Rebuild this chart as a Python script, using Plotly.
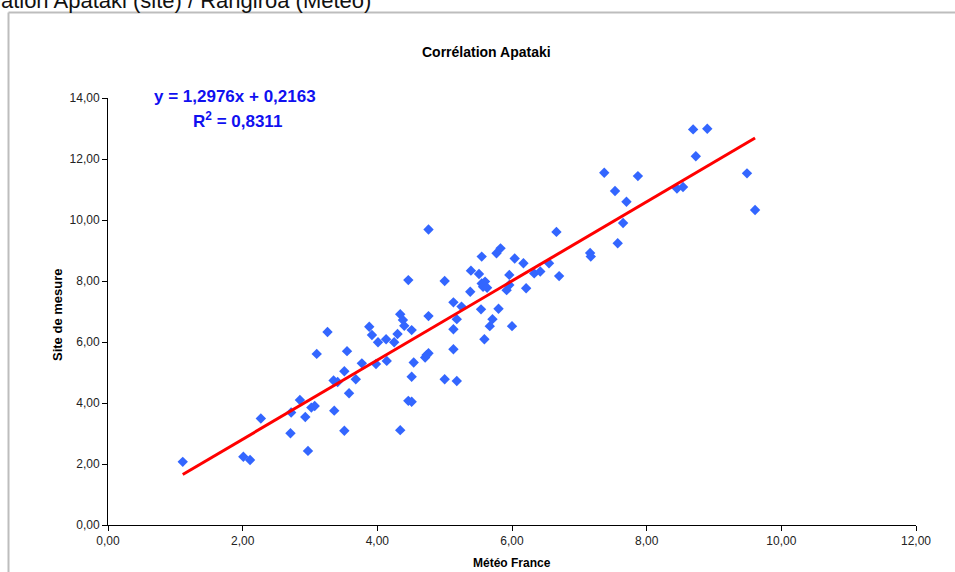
import plotly.graph_objects as go

# Data
meteo_france = [1.11, 2.01, 2.11, 2.27, 2.71, 2.72, 2.85, 2.93, 2.97, 3.02,
                3.07, 3.10, 3.26, 3.35, 3.41, 3.36, 3.51, 3.51, 3.55, 3.58,
                3.68, 3.77, 3.88, 3.92, 3.98, 4.01, 4.13, 4.14, 4.25, 4.30,
                4.34, 4.38, 4.40, 4.34, 4.46, 4.51, 4.46, 4.51, 4.51, 4.54,
                4.71, 4.73, 4.76, 4.76, 4.76, 5.00, 5.00, 5.13, 5.13, 5.13,
                5.18, 5.18, 5.25, 5.38, 5.39, 5.51, 5.54, 5.55, 5.55, 5.57,
                5.60, 5.63, 5.59, 5.67, 5.71, 5.77, 5.80, 5.83, 5.92, 5.96,
                5.96, 6.00, 6.04, 6.17, 6.21, 6.33, 6.42, 6.55, 6.66, 6.70,
                7.16, 7.17, 7.37, 7.53, 7.57, 7.65, 7.70, 7.87, 8.45, 8.54,
                8.69, 8.73, 8.90, 9.49, 9.61]
site_mesure = [2.07, 2.24, 2.13, 3.49, 3.01, 3.69, 4.10, 3.54, 2.43, 3.85,
               3.90, 5.61, 6.33, 4.74, 4.69, 3.75, 5.04, 3.09, 5.70, 4.32,
               4.78, 5.30, 6.50, 6.23, 5.28, 5.99, 6.09, 5.38, 5.99, 6.26,
               6.91, 6.72, 6.53, 3.11, 8.03, 6.39, 4.07, 4.04, 4.86, 5.33,
               5.49, 5.57, 5.63, 6.85, 9.69, 4.78, 8.00, 7.30, 6.42, 5.76,
               4.72, 6.75, 7.16, 7.65, 8.34, 8.23, 7.07, 8.80, 7.92, 7.81,
               7.98, 7.78, 6.09, 6.52, 6.75, 8.91, 7.09, 9.07, 7.70, 7.87,
               8.20, 6.52, 8.74, 8.58, 7.76, 8.25, 8.31, 8.58, 9.61, 8.16,
               8.92, 8.80, 11.55, 10.95, 9.24, 9.90, 10.60, 11.44, 11.03, 11.08,
               12.97, 12.09, 12.99, 11.53, 10.33]

trend_slope = [1.2976]
trend_intercept = [0.2163]
r_squared = [0.8311]

x_ticks = [0, 2, 4, 6, 8, 10, 12]
y_ticks = [0, 2, 4, 6, 8, 10, 12, 14]

FONT = "Arial, 'Liberation Sans', sans-serif"

x_line = [min(meteo_france), max(meteo_france)]
y_line = [trend_slope[0] * v + trend_intercept[0] for v in x_line]

fig = go.Figure()
fig.add_trace(go.Scatter(
    x=meteo_france, y=site_mesure, mode="markers",
    marker=dict(symbol="diamond", size=8, color="#3366FF", line=dict(width=0)),
    showlegend=False, hoverinfo="x+y"))
fig.add_trace(go.Scatter(
    x=x_line, y=y_line, mode="lines",
    line=dict(color="#FF0000", width=3),
    showlegend=False, hoverinfo="skip"))

W, H = 955, 572
L, R, T, B = 108, 39, 98, 47
pw, ph = W - L - R, H - T - B


def px(xp):
    return (xp - L) / pw


def py(yp):
    return (H - B - yp) / ph


fmt = lambda v: f"{v:.2f}".replace(".", ",")

axis_common = dict(
    showgrid=False, zeroline=False, showline=True, linecolor="#000000",
    linewidth=1, ticks="outside", ticklen=5, tickwidth=1, tickcolor="#000000",
    tickfont=dict(family=FONT, size=12, color="#222222"),
)

fig.update_layout(
    width=W, height=H,
    margin=dict(l=L, r=R, t=T, b=B, pad=0),
    paper_bgcolor="white", plot_bgcolor="white",
    xaxis=dict(range=[0, 12], tickvals=x_ticks,
               ticktext=[fmt(v) for v in x_ticks], **axis_common),
    yaxis=dict(range=[0, 14], tickvals=y_ticks,
               ticktext=[fmt(v) for v in y_ticks], **axis_common),
    font=dict(family=FONT),
)

eq_text = ("<b>y = " + f"{trend_slope[0]:.4f}".replace(".", ",") + "x + "
           + f"{trend_intercept[0]:.4f}".replace(".", ",") + "</b>")
r2_text = "<b>R<sup>2</sup> = " + f"{r_squared[0]:.4f}".replace(".", ",") + "</b>"

annotations = [
    dict(text="<b>Corrélation Apataki</b>", x=px(486), y=py(52),
         font=dict(family=FONT, size=14, color="#000000"), xanchor="center", yanchor="middle"),
    dict(text="<b>Site de mesure</b>", x=px(57), y=py(315), textangle=-90,
         font=dict(family=FONT, size=13, color="#000000"), xanchor="center", yanchor="middle"),
    dict(text="<b>Météo France</b>", x=px(512), y=py(563),
         font=dict(family=FONT, size=12, color="#000000"), xanchor="center", yanchor="middle"),
    dict(text=eq_text, x=px(235), y=py(96),
         font=dict(family=FONT, size=17, color="#1010F0"), xanchor="center", yanchor="middle"),
    dict(text=r2_text, x=px(237), y=py(120),
         font=dict(family=FONT, size=17, color="#1010F0"), xanchor="center", yanchor="middle"),
    dict(text="Corrélation Apataki (site) / Rangiroa (Météo)", x=px(373), y=py(15),
         font=dict(family=FONT, size=22, color="#111111"), xanchor="right", yanchor="bottom"),
]
for a in annotations:
    a.update(xref="paper", yref="paper", showarrow=False)
fig.update_layout(annotations=annotations)

# Page frame around the chart (top and left edges visible)
border = dict(color="#BDBDBD", width=2)
fig.add_shape(type="line", xref="paper", yref="paper",
              x0=px(8.5), x1=px(W + 5), y0=py(12.5), y1=py(12.5), line=border, layer="below")
fig.add_shape(type="line", xref="paper", yref="paper",
              x0=px(8.5), x1=px(8.5), y0=py(12.5), y1=py(H + 5), line=border, layer="below")

fig.write_html("out.html")
